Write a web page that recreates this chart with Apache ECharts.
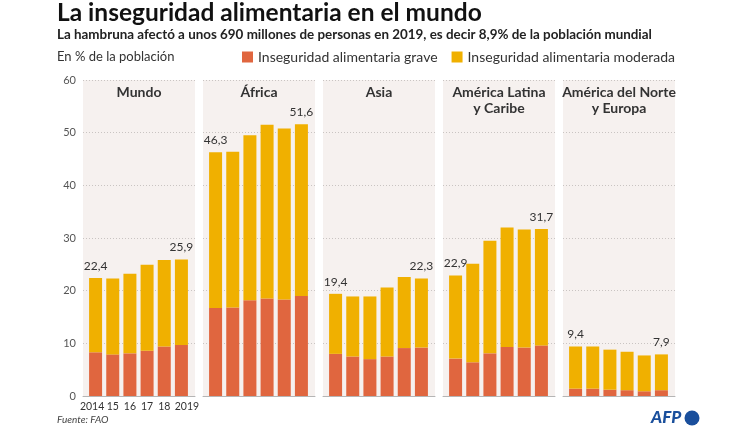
<!DOCTYPE html>
<html>
<head>
<meta charset="utf-8">
<script src="https://cdn.jsdelivr.net/npm/echarts@6/dist/echarts.min.js"></script>
<style>
  html, body { margin: 0; padding: 0; background: #fff; }
  #chart { width: 747px; height: 427px; }
</style>
</head>
<body>
<div id="chart"></div>
<script>
// datos FAO, % de la población
const years = ["2014", "15", "16", "17", "18", "2019"];
const regions = ["Mundo", "África", "Asia", "América Latina\ny Caribe", "América del Norte\ny Europa"];

const totalMundo = [22.4, 22.3, 23.2, 24.9, 25.8, 25.9];
const totalAfrica = [46.3, 46.4, 49.5, 51.5, 50.8, 51.6];
const totalAsia = [19.4, 18.9, 18.9, 20.6, 22.6, 22.3];
const totalLatam = [22.9, 25.1, 29.5, 32.0, 31.6, 31.7];
const totalNorte = [9.4, 9.4, 8.8, 8.4, 7.7, 7.9];

const graveMundo = [8.3, 7.9, 8.1, 8.6, 9.4, 9.7];
const graveAfrica = [16.7, 16.8, 18.2, 18.5, 18.3, 19.0];
const graveAsia = [8.0, 7.5, 7.0, 7.5, 9.1, 9.2];
const graveLatam = [7.1, 6.4, 8.1, 9.3, 9.2, 9.6];
const graveNorte = [1.4, 1.4, 1.2, 1.1, 0.9, 1.1];

const yTicks = [0, 10, 20, 30, 40, 50, 60];

const totals = [totalMundo, totalAfrica, totalAsia, totalLatam, totalNorte];
const graves = [graveMundo, graveAfrica, graveAsia, graveLatam, graveNorte];

const COLOR_GRAVE = "#e0663f";
const COLOR_MOD = "#f0b000";
const FONT = "Lato";

const chart = echarts.init(document.getElementById("chart"), null, { renderer: "canvas" });

const grids = [], xAxes = [], yAxes = [], series = [], titles = [];

// paneles de fondo (0-4)
regions.forEach((r, i) => {
  const left = 83 + i * 120;
  grids.push({
    left: left, width: 112, top: 80, bottom: 31,
    show: true, backgroundColor: "#f6f1ef", borderWidth: 0
  });
  xAxes.push({
    type: "category", gridIndex: i, data: [""],
    axisLine: { show: true, lineStyle: { color: "#b5b5b5", width: 1 } },
    axisTick: { show: false }, axisLabel: { show: false }
  });
  yAxes.push({
    type: "value", gridIndex: i, min: 0, max: 60, interval: 10,
    axisLine: { show: false }, axisTick: { show: false },
    splitLine: { show: true, lineStyle: { color: "#c9c4c2", type: [1, 2], width: 1 } },
    axisLabel: {
      show: i === 0, color: "#555", fontSize: 11, fontFamily: FONT, margin: 7,
      customValues: yTicks
    }
  });
  titles.push({
    text: r, left: left + 56, top: 84, textAlign: "center", padding: 0,
    textStyle: { fontFamily: FONT, fontSize: 14, fontWeight: "bold", color: "#333", lineHeight: 16 }
  });
});

// barras (5-9)
regions.forEach((r, i) => {
  const left = 87 + i * 120;
  const g = 5 + i;
  grids.push({ left: left, width: 103, top: 80, bottom: 31 });
  xAxes.push({
    type: "category", gridIndex: g, data: years,
    axisLine: { show: false }, axisTick: { show: false },
    axisLabel: {
      show: i === 0, color: "#333", fontSize: 10.5, fontFamily: FONT, margin: 5, interval: 0,
      formatter: (v, idx) => idx === 0 ? "{a|" + v + "}" : idx === years.length - 1 ? "{b|" + v + "}" : v,
      rich: {
        a: { fontSize: 10.5, fontFamily: FONT, color: "#333", padding: [0, 7, 0, 0] },
        b: { fontSize: 10.5, fontFamily: FONT, color: "#333", padding: [0, 0, 0, 11] }
      }
    }
  });
  yAxes.push({
    type: "value", gridIndex: g, min: 0, max: 60, show: false, splitLine: { show: false }
  });

  const tot = totals[i], gr = graves[i];
  const moderada = tot.map((t, k) => +(t - gr[k]).toFixed(1));

  series.push({
    name: "Inseguridad alimentaria grave", type: "bar", stack: "s" + i,
    xAxisIndex: g, yAxisIndex: g, barWidth: 13,
    itemStyle: { color: COLOR_GRAVE }, data: gr
  });
  series.push({
    name: "Inseguridad alimentaria moderada", type: "bar", stack: "s" + i,
    xAxisIndex: g, yAxisIndex: g, barWidth: 13,
    itemStyle: { color: COLOR_MOD }, data: moderada,
    label: {
      show: true, position: "top", distance: 6,
      fontFamily: FONT, fontSize: 12, color: "#333",
      formatter: p => (p.dataIndex === 0 || p.dataIndex === tot.length - 1)
        ? String(tot[p.dataIndex]).replace(".", ",") : ""
    }
  });
});

titles.push(
  { text: "La inseguridad alimentaria en el mundo", left: 57, top: 1, padding: 0,
    textStyle: { fontFamily: FONT, fontSize: 24.5, fontWeight: "bold", color: "#111" } },
  { text: "La hambruna afectó a unos 690 millones de personas en 2019, es decir 8,9% de la población mundial",
    left: 57, top: 28, padding: 0,
    textStyle: { fontFamily: FONT, fontSize: 13.4, fontWeight: "bold", color: "#222" } },
  { text: "En % de la población", left: 57, top: 50, padding: 0,
    textStyle: { fontFamily: FONT, fontSize: 13, fontWeight: "normal", color: "#333" } }
);

chart.setOption({
  animation: false,
  title: titles,
  legend: {
    data: ["Inseguridad alimentaria grave", "Inseguridad alimentaria moderada"],
    left: 242, top: 50, padding: 0, icon: "rect", itemWidth: 11, itemHeight: 11, itemGap: 14,
    textStyle: { fontFamily: FONT, fontSize: 14, color: "#333" }
  },
  grid: grids,
  xAxis: xAxes,
  yAxis: yAxes,
  series: series,
  graphic: [
    { type: "text", left: 57, top: 415,
      style: { text: "Fuente: FAO", font: "italic 10px " + FONT, fill: "#444" } },
    { type: "text", left: 651, top: 409,
      style: { text: "AFP", font: "italic 900 17px " + FONT, fill: "#1a4f9c" } },
    { type: "circle", shape: { cx: 692, cy: 418, r: 7.5 }, style: { fill: "#1a4f9c" } }
  ]
});
</script>
</body>
</html>
